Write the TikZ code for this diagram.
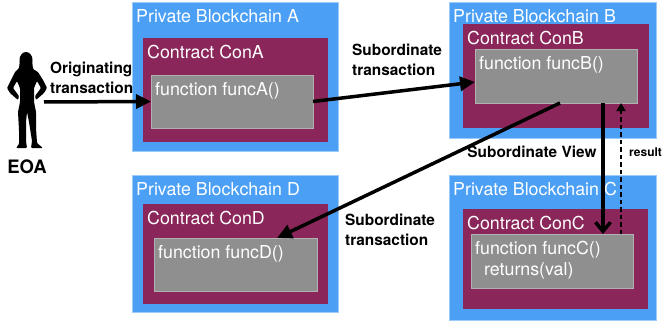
\documentclass[tikz,border=0pt]{standalone}
\usepackage{fontspec}
\setmainfont{TeX Gyre Heros}
\usetikzlibrary{arrows.meta,calc}
\definecolor{chainblue}{RGB}{75,160,246}
\definecolor{conpurple}{RGB}{138,38,90}
\definecolor{funcgray}{RGB}{143,143,143}
\tikzset{
	chainbox/.style={fill=chainblue, draw=chainblue!55!white, line width=0.6pt, anchor=north west, inner sep=0pt, outer sep=0pt},
	conbox/.style={fill=conpurple, anchor=north west, inner sep=0pt, outer sep=0pt},
	funcbox/.style={fill=funcgray, draw=funcgray!70!white, line width=0.6pt, anchor=north west, inner sep=0pt, outer sep=0pt},
	boxtext/.style={anchor=base west, inner sep=0pt, text=white, font=\fontsize{17.8}{20}\selectfont},
	arrowlabel/.style={align=left, inner sep=0pt, font=\fontsize{15.4}{20}\selectfont\bfseries},
	flow/.style={line width=3.5pt, -{Triangle[length=15pt,width=14pt]}},
	viewline/.style={line width=3.5pt, -{Straight Barb[length=9pt,width=15pt]}},
	resultline/.style={line width=2.8pt, dash pattern=on 4.5pt off 3pt, -{Triangle[length=8pt,width=9pt]}}
}
\def\boxtext(#1)#2{\node[boxtext] (#1text) at ([shift={(4,20)}]#1.north west) {#2};}

\begin{document}
\begin{tikzpicture}[x=1pt, y=-1pt]
		%%%%% START %%%%%
		\useasboundingbox (0,0) rectangle (662,324);
		
		% blockchain A
		\node[chainbox, minimum width=206pt, minimum height=149pt] (chainA) at (132,2) {};
		\node[conbox, minimum width=185pt, minimum height=104pt] (conA) at (143,38) {};
		\node[funcbox, minimum width=162pt, minimum height=53pt] (funcA) at (151,75) {};
		\boxtext(chainA){Private Blockchain A}
		\boxtext(conA){Contract ConA}
		\boxtext(funcA){function funcA()}
		
		% blockchain B
		\node[chainbox, minimum width=207pt, minimum height=136pt] (chainB) at (449,2) {};
		\node[conbox, minimum width=186pt, minimum height=104pt] (conB) at (463,24) {};
		\node[funcbox, minimum width=162pt, minimum height=54pt] (funcB) at (475,49) {};
		\boxtext(chainB){Private Blockchain B}
		\boxtext(conB){Contract ConB}
		\boxtext(funcB){function funcB()}
		
		% blockchain D
		\node[chainbox, minimum width=206pt, minimum height=137pt] (chainD) at (132,175) {};
		\node[conbox, minimum width=185pt, minimum height=100pt] (conD) at (143,204) {};
		\node[funcbox, minimum width=163pt, minimum height=53pt] (funcD) at (154,238) {};
		\boxtext(chainD){Private Blockchain D}
		\boxtext(conD){Contract ConD}
		\boxtext(funcD){function funcD()}
		
		% blockchain C
		\node[chainbox, minimum width=207pt, minimum height=145pt] (chainC) at (449,175) {};
		\node[conbox, minimum width=185pt, minimum height=100pt] (conC) at (463,209) {};
		\node[funcbox, minimum width=162pt, minimum height=54pt] (funcC) at (471,234) {};
		\boxtext(chainC){Private Blockchain C}
		\boxtext(conC){Contract ConC}
		\boxtext(funcC){function funcC()}
		\node[boxtext] (funcCret) at ([shift={(13,41)}]funcC.north west) {returns(val)};
		
		% EOA
		\fill (26,60) ellipse [x radius=6.5pt, y radius=8pt];
		\fill[rounded corners=1pt] (20,60) -- (19,68) -- (15,72) -- (11,80) -- (7,88) -- (10,93) -- (18,100) -- (19,96) -- (13,88) -- (17,81) -- (20,88) -- (20,102) -- (18,112) -- (19,130) -- (19,144) -- (16,148) -- (27,148) -- (26,141) -- (26,122) -- (27,112) -- (29,122) -- (32,141) -- (31,148) -- (43,148) -- (37,143) -- (36,128) -- (36,112) -- (34,102) -- (34,88) -- (37,81) -- (41,88) -- (35,96) -- (36,100) -- (44,93) -- (47,88) -- (43,80) -- (38,72) -- (33,69) -- (32,60) -- cycle;
		\node[font=\fontsize{18.5}{20}\selectfont\bfseries, inner sep=0pt] (eoa) at (27,167) {EOA};
		\coordinate (eoahand) at (44,102);
		
		% labels
		\node[arrowlabel, anchor=west] (origlabel) at (50,78) {Originating\\transaction};
		\node[arrowlabel, anchor=west] (subABlabel) at (352,60) {Subordinate\\transaction};
		\node[arrowlabel, anchor=west] (subBDlabel) at (345,230) {Subordinate\\transaction};
		\node[arrowlabel] (viewlabel) at (532,152) {Subordinate View};
		\node[arrowlabel, anchor=west, font=\fontsize{12}{14}\selectfont\bfseries] (resultlabel) at (629,152) {result};
		
		% arrows
		\draw[flow] (eoahand) -- (funcA.west);
		\draw[flow] (funcA.east) -- ([yshift=-6pt]funcB.west);
		\draw[flow] ([xshift=4pt]funcB.south) -- ([xshift=41.5pt]funcD.north);
		\draw[viewline] ([xshift=47pt]funcB.south) -- ([xshift=51pt]funcC.north);
		\draw[resultline] ([xshift=69pt]funcC.north) -- ([xshift=65pt]funcB.south);
		
		%%%%% END %%%%%
	\end{tikzpicture}
\end{document}
